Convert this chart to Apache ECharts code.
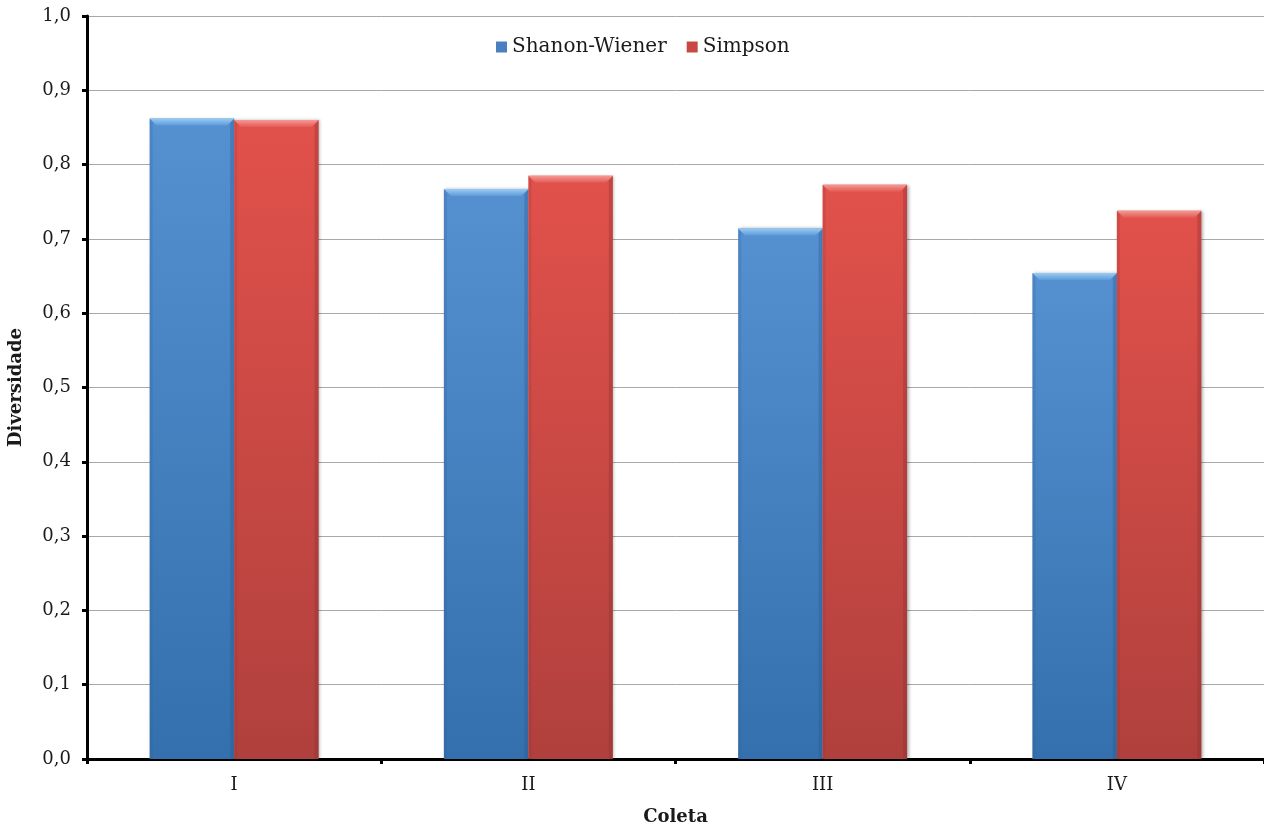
<!DOCTYPE html>
<html>
<head>
<meta charset="utf-8">
<script src="https://cdn.jsdelivr.net/npm/echarts@6/dist/echarts.min.js"></script>
<style>
  html, body { margin: 0; padding: 0; background: #fff; }
  #chart { width: 1264px; height: 828px; }
</style>
</head>
<body>
<div id="chart"></div>
<script>
// Diversity indices per collection
const categories = ['I', 'II', 'III', 'IV'];
const shannonWiener = [0.862, 0.767, 0.714, 0.654];
const simpson = [0.860, 0.785, 0.773, 0.738];
const seriesNames = ['Shanon-Wiener', 'Simpson'];

const FONT = '"DejaVu Serif", "Liberation Serif", serif';
const TEXT = '#1a1a1a';

// palette: [top, bottom, bevel light, bevel low, edge dark]
const palettes = [
  ['#5590d1', '#3470ad', '#9accf4', '#5e9ad8', '#2c5a8f'],
  ['#e2514b', '#b0403d', '#f59a94', '#e45a54', '#8a3230']
];

// bevelled bar drawn in the category slot, offset left/right per series
function bevelBar(seriesIdx) {
  const pal = palettes[seriesIdx];
  return function (params, api) {
    const cat = api.value(0);
    const val = api.value(1);
    const top = api.coord([cat, val]);
    const base = api.coord([cat, 0]);
    const slot = api.size([1, 0])[0];
    const w = slot * 0.287;
    const x = seriesIdx === 0 ? top[0] - w : top[0];
    const y = top[1];
    const h = base[1] - top[1];
    const b = 7;
    return {
      type: 'group',
      children: [
        {
          type: 'rect',
          shape: { x: x, y: y, width: w, height: h },
          style: {
            fill: new echarts.graphic.LinearGradient(0, 0, 0, 1, [
              { offset: 0, color: pal[0] },
              { offset: 1, color: pal[1] }
            ]),
            shadowColor: 'rgba(0,0,0,0.3)',
            shadowBlur: 3,
            shadowOffsetX: 1.5
          }
        },
        {
          type: 'polygon',
          shape: { points: [[x + w, y], [x + w, y + h], [x + w - 4, y + h], [x + w - 4, y + b - 2]] },
          style: { fill: pal[4], opacity: 0.35 }
        },
        {
          type: 'polygon',
          shape: { points: [[x, y], [x, y + h], [x + 3, y + h], [x + 3, y + b - 3]] },
          style: { fill: pal[4], opacity: 0.2 }
        },
        {
          type: 'polygon',
          shape: { points: [[x, y], [x + w, y], [x + w - b, y + b], [x + b, y + b]] },
          style: {
            fill: new echarts.graphic.LinearGradient(0, 0, 0, 1, [
              { offset: 0, color: pal[2] },
              { offset: 1, color: pal[3] }
            ])
          }
        }
      ]
    };
  };
}

function toPairs(values) {
  return values.map((v, i) => [i, v]);
}

const chart = echarts.init(document.getElementById('chart'));
chart.setOption({
  backgroundColor: '#fff',
  animation: false,
  legend: {
    top: 32,
    left: 491,
    itemWidth: 11,
    itemHeight: 11,
    itemGap: 20,
    icon: 'rect',
    textStyle: { fontFamily: FONT, fontSize: 20, color: TEXT }
  },
  grid: { left: 87, right: 0, top: 16, bottom: 69, containLabel: false, outerBoundsMode: 'none' },
  xAxis: {
    type: 'category',
    data: categories,
    name: 'Coleta',
    nameLocation: 'middle',
    nameGap: 49,
    nameTextStyle: { fontFamily: FONT, fontSize: 18, fontWeight: 'bold', color: TEXT },
    axisLine: { lineStyle: { color: '#000', width: 3 } },
    axisTick: { show: true, length: 5, lineStyle: { color: '#000', width: 3 } },
    axisLabel: { fontFamily: FONT, fontSize: 18, color: TEXT, margin: 17 }
  },
  yAxis: {
    type: 'value',
    min: 0,
    max: 1,
    interval: 0.1,
    name: 'Diversidade',
    nameLocation: 'middle',
    nameGap: 62,
    nameRotate: 90,
    nameTextStyle: { fontFamily: FONT, fontSize: 18, fontWeight: 'bold', color: TEXT },
    axisLine: { show: true, lineStyle: { color: '#000', width: 3 } },
    axisTick: { show: true, length: 5, lineStyle: { color: '#000', width: 3 } },
    axisLabel: {
      fontFamily: FONT, fontSize: 18, color: TEXT, margin: 16,
      formatter: v => v.toFixed(1).replace('.', ',')
    },
    splitLine: { lineStyle: { color: '#a8a8a8', width: 1 } }
  },
  series: [
    {
      name: seriesNames[0],
      type: 'custom',
      renderItem: bevelBar(0),
      data: toPairs(shannonWiener),
      itemStyle: { color: '#4a80c0' },
      encode: { x: 0, y: 1 }
    },
    {
      name: seriesNames[1],
      type: 'custom',
      renderItem: bevelBar(1),
      data: toPairs(simpson),
      itemStyle: { color: '#c84844' },
      encode: { x: 0, y: 1 }
    }
  ]
});
</script>
</body>
</html>
